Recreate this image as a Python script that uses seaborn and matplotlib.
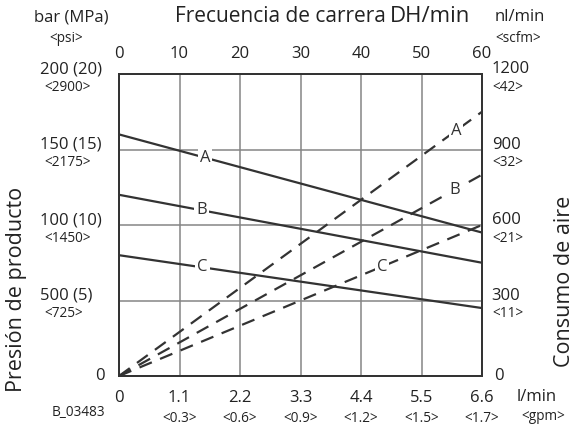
import pandas as pd
import numpy as np
import matplotlib.pyplot as plt
import seaborn as sns

# Datos
caudal_lpm = [0.0, 6.6]
presion = {'A': [160, 95], 'B': [120, 75], 'C': [80, 45]}
consumo_aire = {'A': [0, 1050], 'B': [0, 800], 'C': [0, 600]}

x_ticks = [0, 1.1, 2.2, 3.3, 4.4, 5.5, 6.6]
x_ticks_gpm = ['', '<0.3>', '<0.6>', '<0.9>', '<1.2>', '<1.5>', '<1.7>']
top_ticks = [0, 10, 20, 30, 40, 50, 60]
y_ticks = [0, 50, 100, 150, 200]
y_labels = ['0', '500 (5)', '100 (10)', '150 (15)', '200 (20)']
y_labels_psi = ['', '<725>', '<1450>', '<2175>', '<2900>']
y2_ticks = [0, 300, 600, 900, 1200]
y2_labels_scfm = ['', '<11>', '<21>', '<32>', '<42>']

# posiciones de las etiquetas de las curvas (en l/min)
pos_etiqueta_presion = {'A': 1.56, 'B': 1.5, 'C': 1.52}
pos_etiqueta_aire = {'A': 6.13, 'B': 6.1, 'C': 4.78}

sns.set_style('white')
plt.rcParams['font.family'] = ['Open Sans', 'DejaVu Sans']

df_p = pd.DataFrame([(c, x, y) for c, ys in presion.items() for x, y in zip(caudal_lpm, ys)],
                    columns=['curva', 'caudal', 'valor'])
df_a = pd.DataFrame([(c, x, y) for c, ys in consumo_aire.items() for x, y in zip(caudal_lpm, ys)],
                    columns=['curva', 'caudal', 'valor'])

fig = plt.figure(figsize=(5.77, 4.28), dpi=100)
ax = fig.add_axes([119 / 577, 1 - 376 / 428, 363 / 577, 302 / 428])
ax2 = ax.twinx()

col = '#333333'
grid_col = '#858585'
pal = {'A': col, 'B': col, 'C': col}

sns.lineplot(data=df_p, x='caudal', y='valor', hue='curva', palette=pal,
             linewidth=1.6, legend=False, ax=ax, zorder=3)
sns.lineplot(data=df_a, x='caudal', y='valor', hue='curva', palette=pal,
             linewidth=1.6, legend=False, ax=ax2, zorder=3)
for ln in ax2.get_lines():
    ln.set_dashes((6, 4))

ax.set_xlim(0, 6.6)
ax.set_ylim(0, 200)
ax2.set_ylim(0, 1200)

ax.set_xticks(x_ticks)
ax.set_yticks(y_ticks)
ax.grid(True, color=grid_col, linewidth=1.1)
ax.set_axisbelow(True)
ax.tick_params(length=0, labelbottom=False, labelleft=False)
ax2.tick_params(length=0, labelright=False)
ax2.set_yticks([])
ax.set_xlabel('')
ax.set_ylabel('')
ax2.set_ylabel('')
for a in (ax, ax2):
    for s in a.spines.values():
        s.set_color(col)
        s.set_linewidth(1.3)

# etiquetas de las curvas
bbox = dict(facecolor='white', edgecolor='none', pad=1.5)
for c, xp in pos_etiqueta_presion.items():
    yp = np.interp(xp, caudal_lpm, presion[c])
    ax.text(xp, yp, c, ha='center', va='center', fontsize=12, color=col, bbox=bbox, zorder=5)
for c, xp in pos_etiqueta_aire.items():
    yp = np.interp(xp, caudal_lpm, consumo_aire[c])
    ax2.text(xp, yp, c, ha='center', va='center', fontsize=12, color=col, bbox=bbox, zorder=5)

txt = '#222222'
big = 12
small = 9.8
# eje inferior
for xv, g in zip(x_ticks, x_ticks_gpm):
    ax.annotate(f'{xv:g}', (xv, 0), xytext=(0, -16), textcoords='offset points',
                ha='center', va='center', fontsize=big, color=txt, annotation_clip=False)
    if g:
        ax.annotate(g, (xv, 0), xytext=(0, -30.5), textcoords='offset points',
                    ha='center', va='center', fontsize=small, color=txt, annotation_clip=False)

# eje superior
for i, t in enumerate(top_ticks):
    ax.annotate(str(t), (x_ticks[i], 200), xytext=(0, 14.5), textcoords='offset points',
                ha='center', va='center', fontsize=big, color=txt, annotation_clip=False)

# eje izquierdo
for yv, lab, psi in zip(y_ticks, y_labels, y_labels_psi):
    if lab == '0':
        ax.annotate(lab, (0, yv), xytext=(-10, 0), textcoords='offset points',
                    ha='right', va='center', fontsize=big, color=txt, annotation_clip=False)
        continue
    ax.annotate(lab, (0, yv), xytext=(-57, 0.5), textcoords='offset points',
                ha='left', va='baseline', fontsize=big, color=txt, annotation_clip=False)
    ax.annotate(psi, (0, yv), xytext=(-54, -9.5), textcoords='offset points',
                ha='left', va='center', fontsize=small, color=txt, annotation_clip=False)

# eje derecho
for yv, sc in zip(y2_ticks, y2_labels_scfm):
    if yv == 0:
        ax2.annotate('0', (6.6, yv), xytext=(9, 0), textcoords='offset points',
                     ha='left', va='center', fontsize=big, color=txt, annotation_clip=False)
        continue
    ax2.annotate(str(yv), (6.6, yv), xytext=(7, 0.5), textcoords='offset points',
                 ha='left', va='baseline', fontsize=big, color=txt, annotation_clip=False)
    ax2.annotate(sc, (6.6, yv), xytext=(7.5, -9.5), textcoords='offset points',
                 ha='left', va='center', fontsize=small, color=txt, annotation_clip=False)

# textos de unidades y titulos
fig.text(175 / 577, 1 - 22 / 428, 'Frecuencia de carrera', fontsize=15, color=txt, ha='left', va='baseline')
fig.text(390 / 577, 1 - 22 / 428, 'DH/min', fontsize=16, color=txt, ha='left', va='baseline')
fig.text(71 / 577, 1 - 17 / 428, 'bar (MPa)', fontsize=12, color=txt, ha='center', va='center')
fig.text(66 / 577, 1 - 38 / 428, '<psi>', fontsize=small, color=txt, ha='center', va='center')
fig.text(495 / 577, 1 - 17 / 428, 'nl/min', fontsize=12, color=txt, ha='left', va='center')
fig.text(495 / 577, 1 - 38 / 428, '<scfm>', fontsize=small, color=txt, ha='left', va='center')
fig.text(537 / 577, 1 - 397 / 428, 'l/min', fontsize=big, color=txt, ha='center', va='center')
fig.text(543 / 577, 1 - 417 / 428, '<gpm>', fontsize=small, color=txt, ha='center', va='center')
fig.text(78 / 577, 1 - 413 / 428, 'B_03483', fontsize=small, color=txt, ha='center', va='center')
fig.text(17 / 577, 1 - 289 / 428, 'Presión de producto', fontsize=15.5, color=txt,
         rotation=90, ha='center', va='center')
fig.text(565 / 577, 1 - 281 / 428, 'Consumo de aire', fontsize=15.5, color=txt,
         rotation=90, ha='center', va='center')

fig.savefig('out.png', dpi=100)
